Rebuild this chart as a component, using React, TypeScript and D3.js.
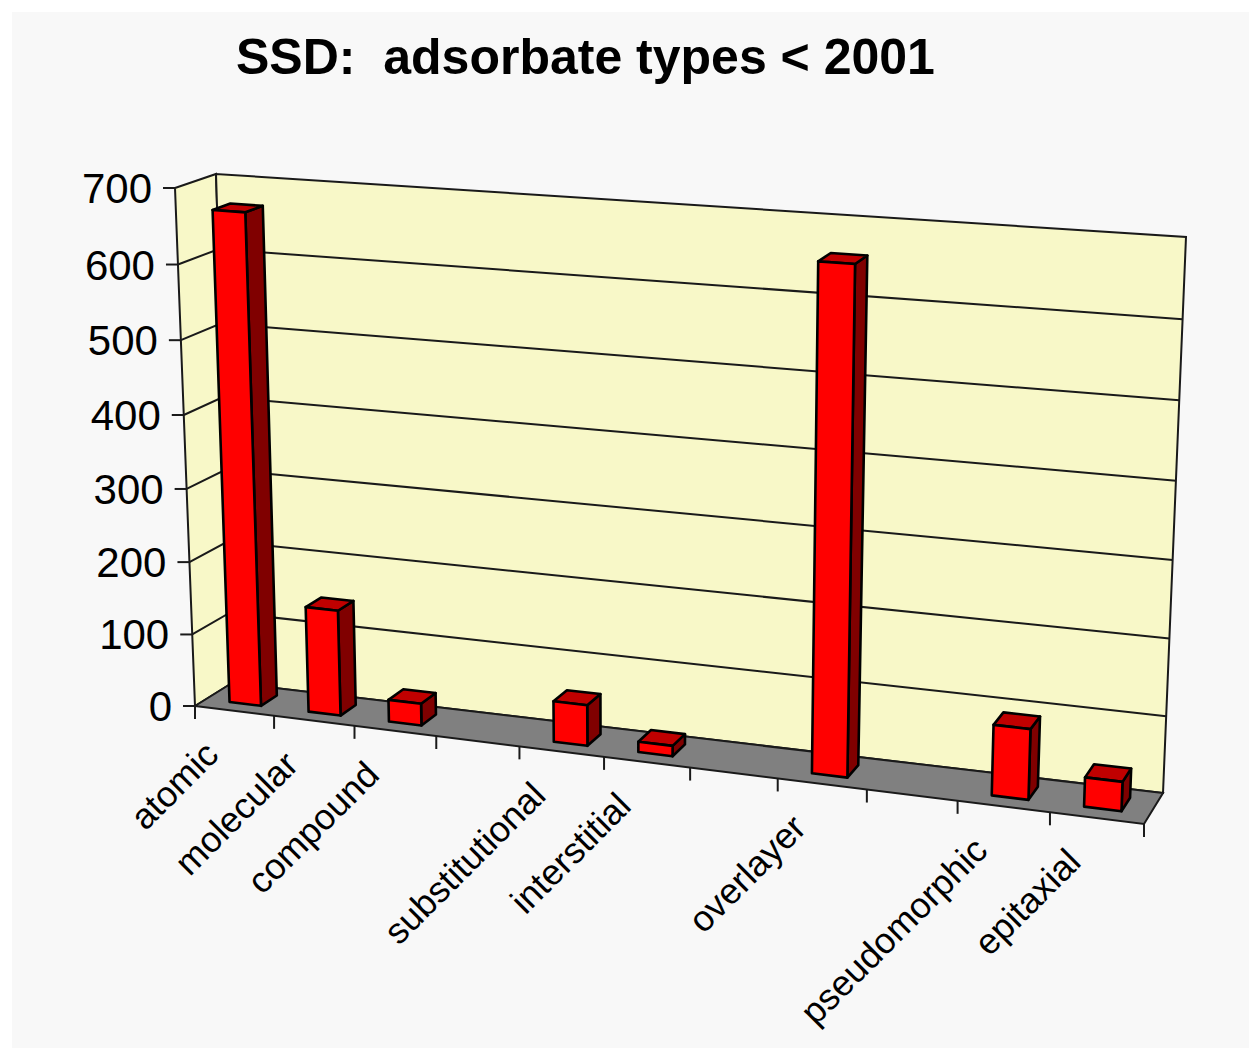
import React from "react";
import * as d3 from "d3";

const categories = ["atomic", "molecular", "compound", "", "substitutional", "interstitial", "", "overlayer", "", "pseudomorphic", "epitaxial"];
const values = [668, 145, 30, 0, 55, 14, 0, 658, 0, 92, 38];
const yTicks = [0, 100, 200, 300, 400, 500, 600, 700];
const title = "SSD:  adsorbate types < 2001";

const width = 1249;
const height = 1048;

// floor corners of the 3d box, and how far up the walls go from each of them
const floorFL: [number, number] = [195, 706];
const floorFR: [number, number] = [1144, 824];
const floorBL: [number, number] = [232, 683];
const floorBR: [number, number] = [1163, 793];
const upFL: [number, number] = [-20, -518];
const upFR: [number, number] = [20, -566];
const upBL: [number, number] = [-16, -509];
const upBR: [number, number] = [23, -556];

// foreshortening, things get bigger to the right and to the top
const foreshorten = (r: number) => (t: number) => t / (t + r * (1 - t));
const fx = foreshorten(1.1);
const fy = foreshorten(1.04);

const mix = (a: [number, number], b: [number, number], t: number): [number, number] => [
    d3.interpolateNumber(a[0], b[0])(t),
    d3.interpolateNumber(a[1], b[1])(t),
];

const yScale = d3.scaleLinear().domain([0, 700]).range([0, 1]);
const xBand = d3
    .scaleBand<number>()
    .domain(d3.range(categories.length))
    .range([0, 1])
    .paddingInner(0.6)
    .paddingOuter(0.3);
const xStep = d3.scaleLinear().domain([0, categories.length]).range([0, 1]);

// u along the category axis, value along the y axis, d is depth (0 front, 1 back)
const project = (u: number, value: number, d: number): [number, number] => {
    const t = fx(u);
    const floor = mix(mix(floorFL, floorFR, t), mix(floorBL, floorBR, t), d);
    const up = mix(mix(upFL, upFR, t), mix(upBL, upBR, t), d);
    const h = fy(yScale(value));
    return [floor[0] + up[0] * h, floor[1] + up[1] * h];
};

const path = d3.line();
const poly = (pts: [number, number][]) => path(pts) + "Z";

const depth0 = 0.3;
const depth1 = 0.74;
const lineColor = "#1a1a1a";

const App = () => {
    const top = yTicks[yTicks.length - 1];

    return (
        <svg
            width={width}
            height={height}
            style={{position: "absolute", left: 0, top: 0, background: "#fff"}}
            fontFamily="'Liberation Sans', Arial, sans-serif"
        >
            <rect x={12} y={12} width={width - 12} height={height - 12} fill="#f8f8f8"/>

            <text x={236} y={74} fontSize={50} fontWeight="bold" fill="#000" style={{whiteSpace: "pre"}}>
                {title}
            </text>

            {/* walls */}
            <path
                d={poly([project(0, 0, 0), project(0, top, 0), project(0, top, 1), project(0, 0, 1)])}
                fill="#f8f8c8" stroke={lineColor} strokeWidth={2}
            />
            <path
                d={poly([project(0, 0, 1), project(0, top, 1), project(1, top, 1), project(1, 0, 1)])}
                fill="#f8f8c8" stroke={lineColor} strokeWidth={2}
            />

            {/* gridlines */}
            {yTicks.slice(1, -1).map(t => (
                <path
                    key={t}
                    d={path([project(0, t, 0), project(0, t, 1), project(1, t, 1)]) as string}
                    fill="none" stroke={lineColor} strokeWidth={2}
                />
            ))}

            {/* floor */}
            <path
                d={poly([project(0, 0, 0), project(1, 0, 0), project(1, 0, 1), project(0, 0, 1)])}
                fill="#808080" stroke={lineColor} strokeWidth={2}
            />

            {/* y axis */}
            {yTicks.map(t => {
                const [x, y] = project(0, t, 0);
                return (
                    <g key={t}>
                        <line x1={x - 12} x2={x} y1={y} y2={y} stroke={lineColor} strokeWidth={2}/>
                        <text x={x - 23} y={y + 15} fontSize={42} textAnchor="end" fill="#000">{t}</text>
                    </g>
                );
            })}

            {/* x axis ticks */}
            {d3.range(0, categories.length + 1).map(i => {
                const [x, y] = project(xStep(i), 0, 0);
                return <line key={i} x1={x} x2={x} y1={y} y2={y + 13} stroke={lineColor} strokeWidth={2}/>;
            })}

            {/* x labels */}
            {categories.map((c, i) => {
                if (!c) return null;
                const [x, y] = project(xStep(i + 0.5), 0, 0);
                return (
                    <text
                        key={i}
                        transform={`translate(${x - 14},${y + 46}) rotate(-45)`}
                        fontSize={36}
                        textAnchor="end"
                        fill="#000"
                    >
                        {c}
                    </text>
                );
            })}

            {/* bars */}
            {categories.map((c, i) => {
                if (!c) return null;
                const u0 = xBand(i) as number;
                const u1 = u0 + xBand.bandwidth();
                const v = values[i];
                return (
                    <g key={i} stroke="#000" strokeWidth={2.6} strokeLinejoin="round">
                        <path
                            d={poly([project(u1, 0, depth0), project(u1, v, depth0), project(u1, v, depth1), project(u1, 0, depth1)])}
                            fill="#800000"
                        />
                        <path
                            d={poly([project(u0, v, depth0), project(u1, v, depth0), project(u1, v, depth1), project(u0, v, depth1)])}
                            fill="#c00000"
                        />
                        <path
                            d={poly([project(u0, 0, depth0), project(u1, 0, depth0), project(u1, v, depth0), project(u0, v, depth0)])}
                            fill="#ff0000"
                        />
                    </g>
                );
            })}
        </svg>
    );
};

export default App;
